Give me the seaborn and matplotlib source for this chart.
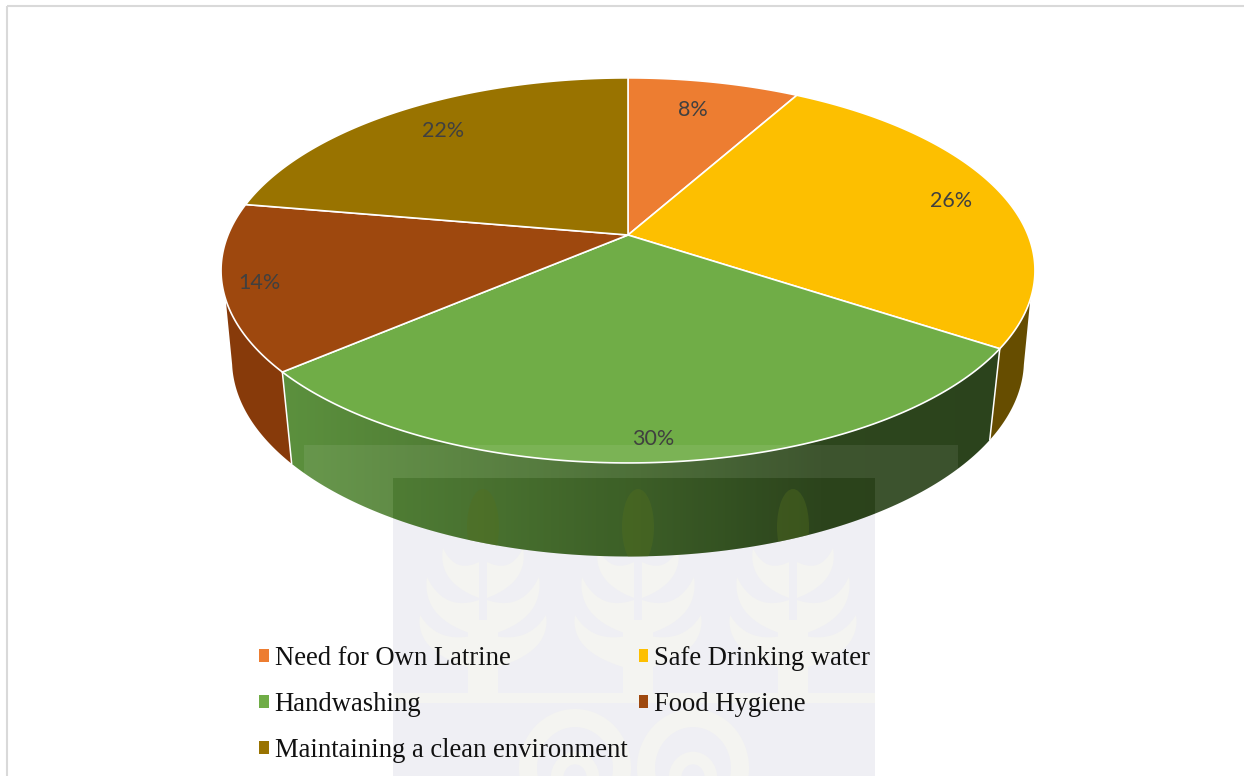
import numpy as np
import matplotlib
matplotlib.use("Agg")
import matplotlib.pyplot as plt
import seaborn as sns
from matplotlib.patches import Polygon, Patch, Rectangle, Ellipse
from matplotlib.colors import LinearSegmentedColormap

# ---- data ----
categories = ["Need for Own Latrine", "Safe Drinking water", "Handwashing",
              "Food Hygiene", "Maintaining a clean environment"]
shares = [8, 26, 30, 14, 22]
top_colors = ["#ED7D31", "#FDBF00", "#70AD47", "#9E480E", "#997300"]
wall_colors = ["#8E4B1D", "#664D00", None, "#873A0A", "#5C4500"]
label_pos = [(693, 110), (951, 201), (653, 439), (259, 283), (443, 131)]

sns.set_theme(style="white", rc={"axes.facecolor": "white", "figure.facecolor": "white"})
plt.rcParams['font.family'] = ['Liberation Serif', 'DejaVu Sans']

fig = plt.figure(figsize=(12.44, 7.76), dpi=100)
ax = fig.add_axes([0, 0, 1, 1])
ax.set_xlim(0, 1244)
ax.set_ylim(776, 0)
ax.axis("off")

# perspective projection of the pie's disc
CX, CY, RX, RY, K = 628.0, 235.0, 400.0, 186.0, 0.184
def rim(frac, sx=1.0, sy=1.0, cy=CY):
    a = 2 * np.pi * np.asarray(frac) / 100.0
    a = a + np.radians(1.1) * np.sin(a)
    u, v = np.sin(a), -np.cos(a)
    d = 1 - K * v
    return np.column_stack([CX + sx * RX * u / d, cy + sy * RY * v / d])
def lower(frac):
    return rim(frac, 0.973, 1.02, 324.0)

edges = np.concatenate([[0], np.cumsum(shares)])
UP_R, LOW_R = 30.0, 28.0
UP_L, LOW_L = 70.0, 72.0

# yellow and brown walls
i = 1
p = np.vstack([rim(np.linspace(UP_R, edges[i + 1], 40)), lower(np.linspace(edges[i + 1], LOW_R, 40))])
ax.add_patch(Polygon(p, fc=wall_colors[i], ec="none", zorder=2))
i = 3
p = np.vstack([rim(np.linspace(edges[i], UP_L, 40)), lower(np.linspace(LOW_L, edges[i], 40))])
ax.add_patch(Polygon(p, fc=wall_colors[i], ec="none", zorder=2))

# green wall with a horizontal gradient
i = 2
f = np.linspace(edges[i], edges[i + 1], 120)
up, lo = rim(f), lower(f)
wall = Polygon(np.vstack([up, lo[::-1]]), fc="none", ec="none", zorder=3)
ax.add_patch(wall)
cmap = LinearSegmentedColormap.from_list("w", ["#2B431C", "#2E471E", "#3F6329", "#4F7B34", "#5C913E"])
img = ax.imshow(np.linspace(0, 1, 256)[None, :], cmap=cmap, extent=(1001, 281, 560, 340),
                aspect="auto", zorder=3)
img.set_clip_path(wall)
ax.set_xlim(0, 1244)
ax.set_ylim(776, 0)
for e in (edges[i], edges[i + 1]):
    ax.plot([rim(e)[0][0], lower(e)[0][0]], [rim(e)[0][1], lower(e)[0][1]],
            color="white", lw=1.1, zorder=4)

# top faces
handles = {}
for i, (c, s) in enumerate(zip(categories, shares)):
    f = np.linspace(edges[i], edges[i + 1], 160)
    p = np.vstack([[CX, CY], rim(f)])
    ax.add_patch(Polygon(p, closed=True, fc=top_colors[i], ec="white", lw=1.2, joinstyle="round", zorder=5))
    handles[c] = Patch(fc=top_colors[i], ec="none", label=c)
    ax.text(*label_pos[i], f"{s}%", ha="center", va="center", color="#404040",
            fontsize=15.5, family=["Lato", "DejaVu Sans"], zorder=6)

# faded watermark
for r in ((304, 445, 654, 33), (304, 478, 89, 90), (875, 478, 83, 90)):
    ax.add_patch(Rectangle(r[:2], r[2], r[3], fc="white", alpha=0.08, ec="none", zorder=7))
ax.add_patch(Rectangle((393, 478), 482, 298, fc="#EFEFF4", ec="none", zorder=1))
shade = Rectangle((393, 478), 482, 90, fc="#16200C", alpha=0.07, ec="none", zorder=7)
ax.add_patch(shade)
shade.set_clip_path(wall)
cream = "#F4F4F1"

def quad(p0, p1, p2, n=24):
    t = np.linspace(0, 1, n)[:, None]
    return (1 - t) ** 2 * np.array(p0) + 2 * t * (1 - t) * np.array(p1) + t ** 2 * np.array(p2)

for x0 in (483, 638, 793):
    leaf_tint = Ellipse((x0, 527), 32, 76, fc="#546F1E", alpha=0.38, ec="none", zorder=7)
    ax.add_patch(leaf_tint)
    leaf_tint.set_clip_path(wall)
    for ytip, wid, ybot in ((548, 40, 590), (577, 56, 628), (615, 63, 662)):
        for sgn in (-1, 1):
            tip = (x0 + sgn * wid, ytip)
            outer = quad(tip, (x0 + sgn * (wid + 6), ybot - 8), (x0 + sgn * 4, ybot + 8))
            inner = quad((x0 + sgn * 4, ybot - 28), (x0 + sgn * wid * 0.7, ybot - 16), tip)
            ax.add_patch(Polygon(np.vstack([outer, inner]), fc=cream, ec="none", zorder=1.5))
    ax.add_patch(Rectangle((x0 - 15, 620), 30, 75, fc=cream, ec="none", zorder=1.5))
ax.add_patch(Rectangle((393, 693), 482, 10, fc=cream, ec="none", zorder=1.5))
for x0 in (575, 693):
    ax.add_patch(Ellipse((x0, 768), 94, 100, fc="none", ec=cream, lw=13, zorder=1.5))
    ax.add_patch(Ellipse((x0, 778), 36, 40, fc="none", ec=cream, lw=9, zorder=1.5))

# legend
order = [categories[0], categories[2], categories[4], categories[1], categories[3]]
leg = ax.legend(handles=[handles[c] for c in order], ncol=2, frameon=False,
                prop={"family": "Liberation Serif", "size": 19.2},
                loc="upper left", bbox_to_anchor=(259 / 1244, 1 - 646 / 776), borderaxespad=0, borderpad=0,
                handlelength=0.36, handleheight=0.36, handletextpad=0.23,
                labelspacing=0.79, columnspacing=0.42, labelcolor="#111111")
leg.set_zorder(8)

# outer frame
for xs, ys in (([7, 7], [776, 6]), ([7, 1244], [6, 6])):
    ax.plot(xs, ys, color="#D9D9D9", lw=1.5, zorder=9, solid_capstyle="butt")

fig.savefig("out.png", dpi=100)
